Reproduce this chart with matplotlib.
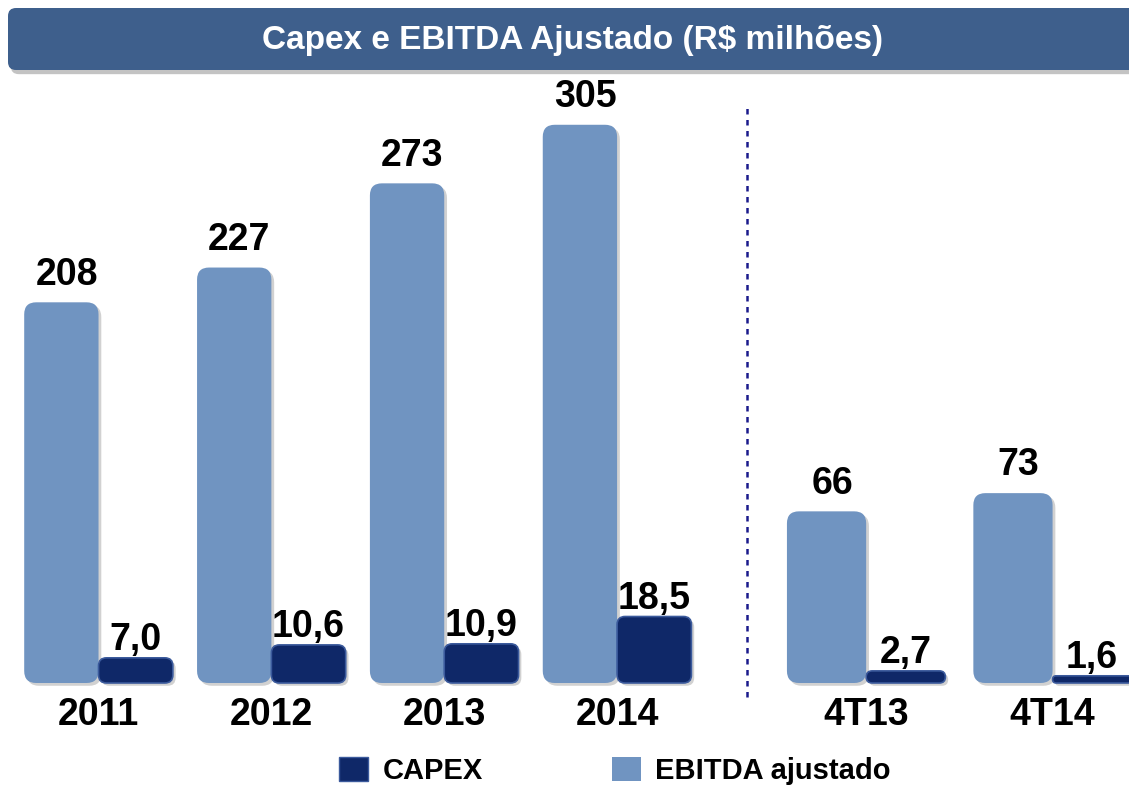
import matplotlib
matplotlib.use("Agg")
import matplotlib.pyplot as plt
import matplotlib.patheffects as pe
from matplotlib.patches import FancyBboxPatch, Patch
from matplotlib.lines import Line2D

plt.rcParams['font.family'] = ['Liberation Sans', 'DejaVu Sans']
plt.rcParams['font.weight'] = 'bold'

# data
years = ['2011', '2012', '2013', '2014']
ebitda_year = [208, 227, 273, 305]
capex_year = [7.0, 10.6, 10.9, 18.5]

quarters = ['4T13', '4T14']
ebitda_q = [66, 73]
capex_q = [2.7, 1.6]

EBITDA_COLOR = '#7094C1'
CAPEX_COLOR = '#0F2868'
CAPEX_EDGE = '#3B5A9C'
BANNER = '#3E5F8C'

W, H = 1129, 790
fig = plt.figure(figsize=(W / 100, H / 100), dpi=100)

base_px = 107      # baseline height from bottom
top_px = 700
split_px = 745
ax_h = top_px - base_px


def fmt(v):
    return f"{v:.1f}".replace('.', ',')


def round_bars(ax, bars, w_px, h_px, r_px):
    x0, x1 = ax.get_xlim()
    y0, y1 = ax.get_ylim()
    ux = (x1 - x0) / w_px
    uy = (y1 - y0) / h_px
    for b in bars:
        x, y, w, h = b.get_x(), b.get_y(), b.get_width(), b.get_height()
        r = min(r_px, h / uy / 2, w / ux / 2)
        p = FancyBboxPatch((x, y), w, h,
                           boxstyle=f"round,pad=0,rounding_size={r * ux}",
                           mutation_aspect=uy / ux,
                           facecolor=b.get_facecolor(), edgecolor=b.get_edgecolor(),
                           linewidth=b.get_linewidth(), clip_on=False,
                           path_effects=[pe.withSimplePatchShadow(offset=(2, -2), shadow_rgbFace='#999999', alpha=0.45)])
        b.remove()
        ax.add_patch(p)


def panel(left_px, width_px, labels, ebitda, capex, xlim, ylim_e, ylim_c, bw):
    ax = fig.add_axes([left_px / W, base_px / H, width_px / W, ax_h / H])
    axc = ax.twinx()
    x = list(range(len(labels)))
    for a, lim in ((ax, ylim_e), (axc, ylim_c)):
        a.set_xlim(*xlim)
        a.set_ylim(0, lim)
        for s in a.spines.values():
            s.set_visible(False)
        a.set_yticks([])
        a.patch.set_visible(False)
    be = ax.bar([i - bw / 2 for i in x], ebitda, width=bw, color=EBITDA_COLOR, linewidth=0)
    bc = axc.bar([i + bw / 2 for i in x], capex, width=bw, color=CAPEX_COLOR,
                 edgecolor=CAPEX_EDGE, linewidth=1.2)
    for i, v in enumerate(ebitda):
        ax.annotate(f"{v}", (i - bw / 2 + 0.03, v), xytext=(0, 7), textcoords='offset points',
                    ha='center', va='bottom', fontsize=27, fontweight='bold')
    for i, v in enumerate(capex):
        axc.annotate(fmt(v), (i + bw / 2, v), xytext=(0, 0), textcoords='offset points',
                     ha='center', va='bottom', fontsize=27, fontweight='bold')
    ax.set_xticks(x)
    ax.set_xticklabels(labels, fontsize=27, fontweight='bold')
    ax.tick_params(axis='x', length=0, pad=10)
    round_bars(ax, be, width_px, ax_h, 12)
    round_bars(axc, bc, width_px, ax_h, 8)
    return ax


panel(0, split_px, years, ebitda_year, capex_year,
      (-0.57, 3.74), 324, 165, 0.43)
panel(split_px, W - split_px, quarters, ebitda_q, capex_q,
      (-0.65, 1.41), 228, 132, 0.425)

# separator
fig.add_artist(Line2D([747 / W, 747 / W], [(H - 697) / H, (H - 103) / H],
                      color='#1A1A8C', linewidth=1.8, linestyle=(0, (2.2, 2.2))))

# title banner
banner = FancyBboxPatch((8 / W, (H - 70) / H), 1.1, 62 / H,
                        boxstyle=f"round,pad=0,rounding_size={8 / W}",
                        mutation_aspect=W / H, transform=fig.transFigure,
                        facecolor=BANNER, edgecolor='none', clip_on=False,
                        path_effects=[pe.withSimplePatchShadow(offset=(2, -3), shadow_rgbFace='#888888', alpha=0.5)])
fig.add_artist(banner)
fig.text(573 / W, (H - 41) / H, "Capex e EBITDA Ajustado (R$ milhões)",
         color='white', fontsize=24, fontweight='bold', ha='center', va='center')

# legend
handles = [Patch(facecolor=CAPEX_COLOR, edgecolor=CAPEX_EDGE, label='CAPEX'),
           Patch(facecolor=EBITDA_COLOR, edgecolor='none', label='EBITDA ajustado')]
fig.legend(handles=handles, ncol=2, loc='center', bbox_to_anchor=(615 / W, 19 / H),
           frameon=False, fontsize=21, handlelength=1.0, handleheight=0.9,
           handletextpad=0.5, columnspacing=4.4, borderpad=0)

fig.savefig('out.png', dpi=100)
